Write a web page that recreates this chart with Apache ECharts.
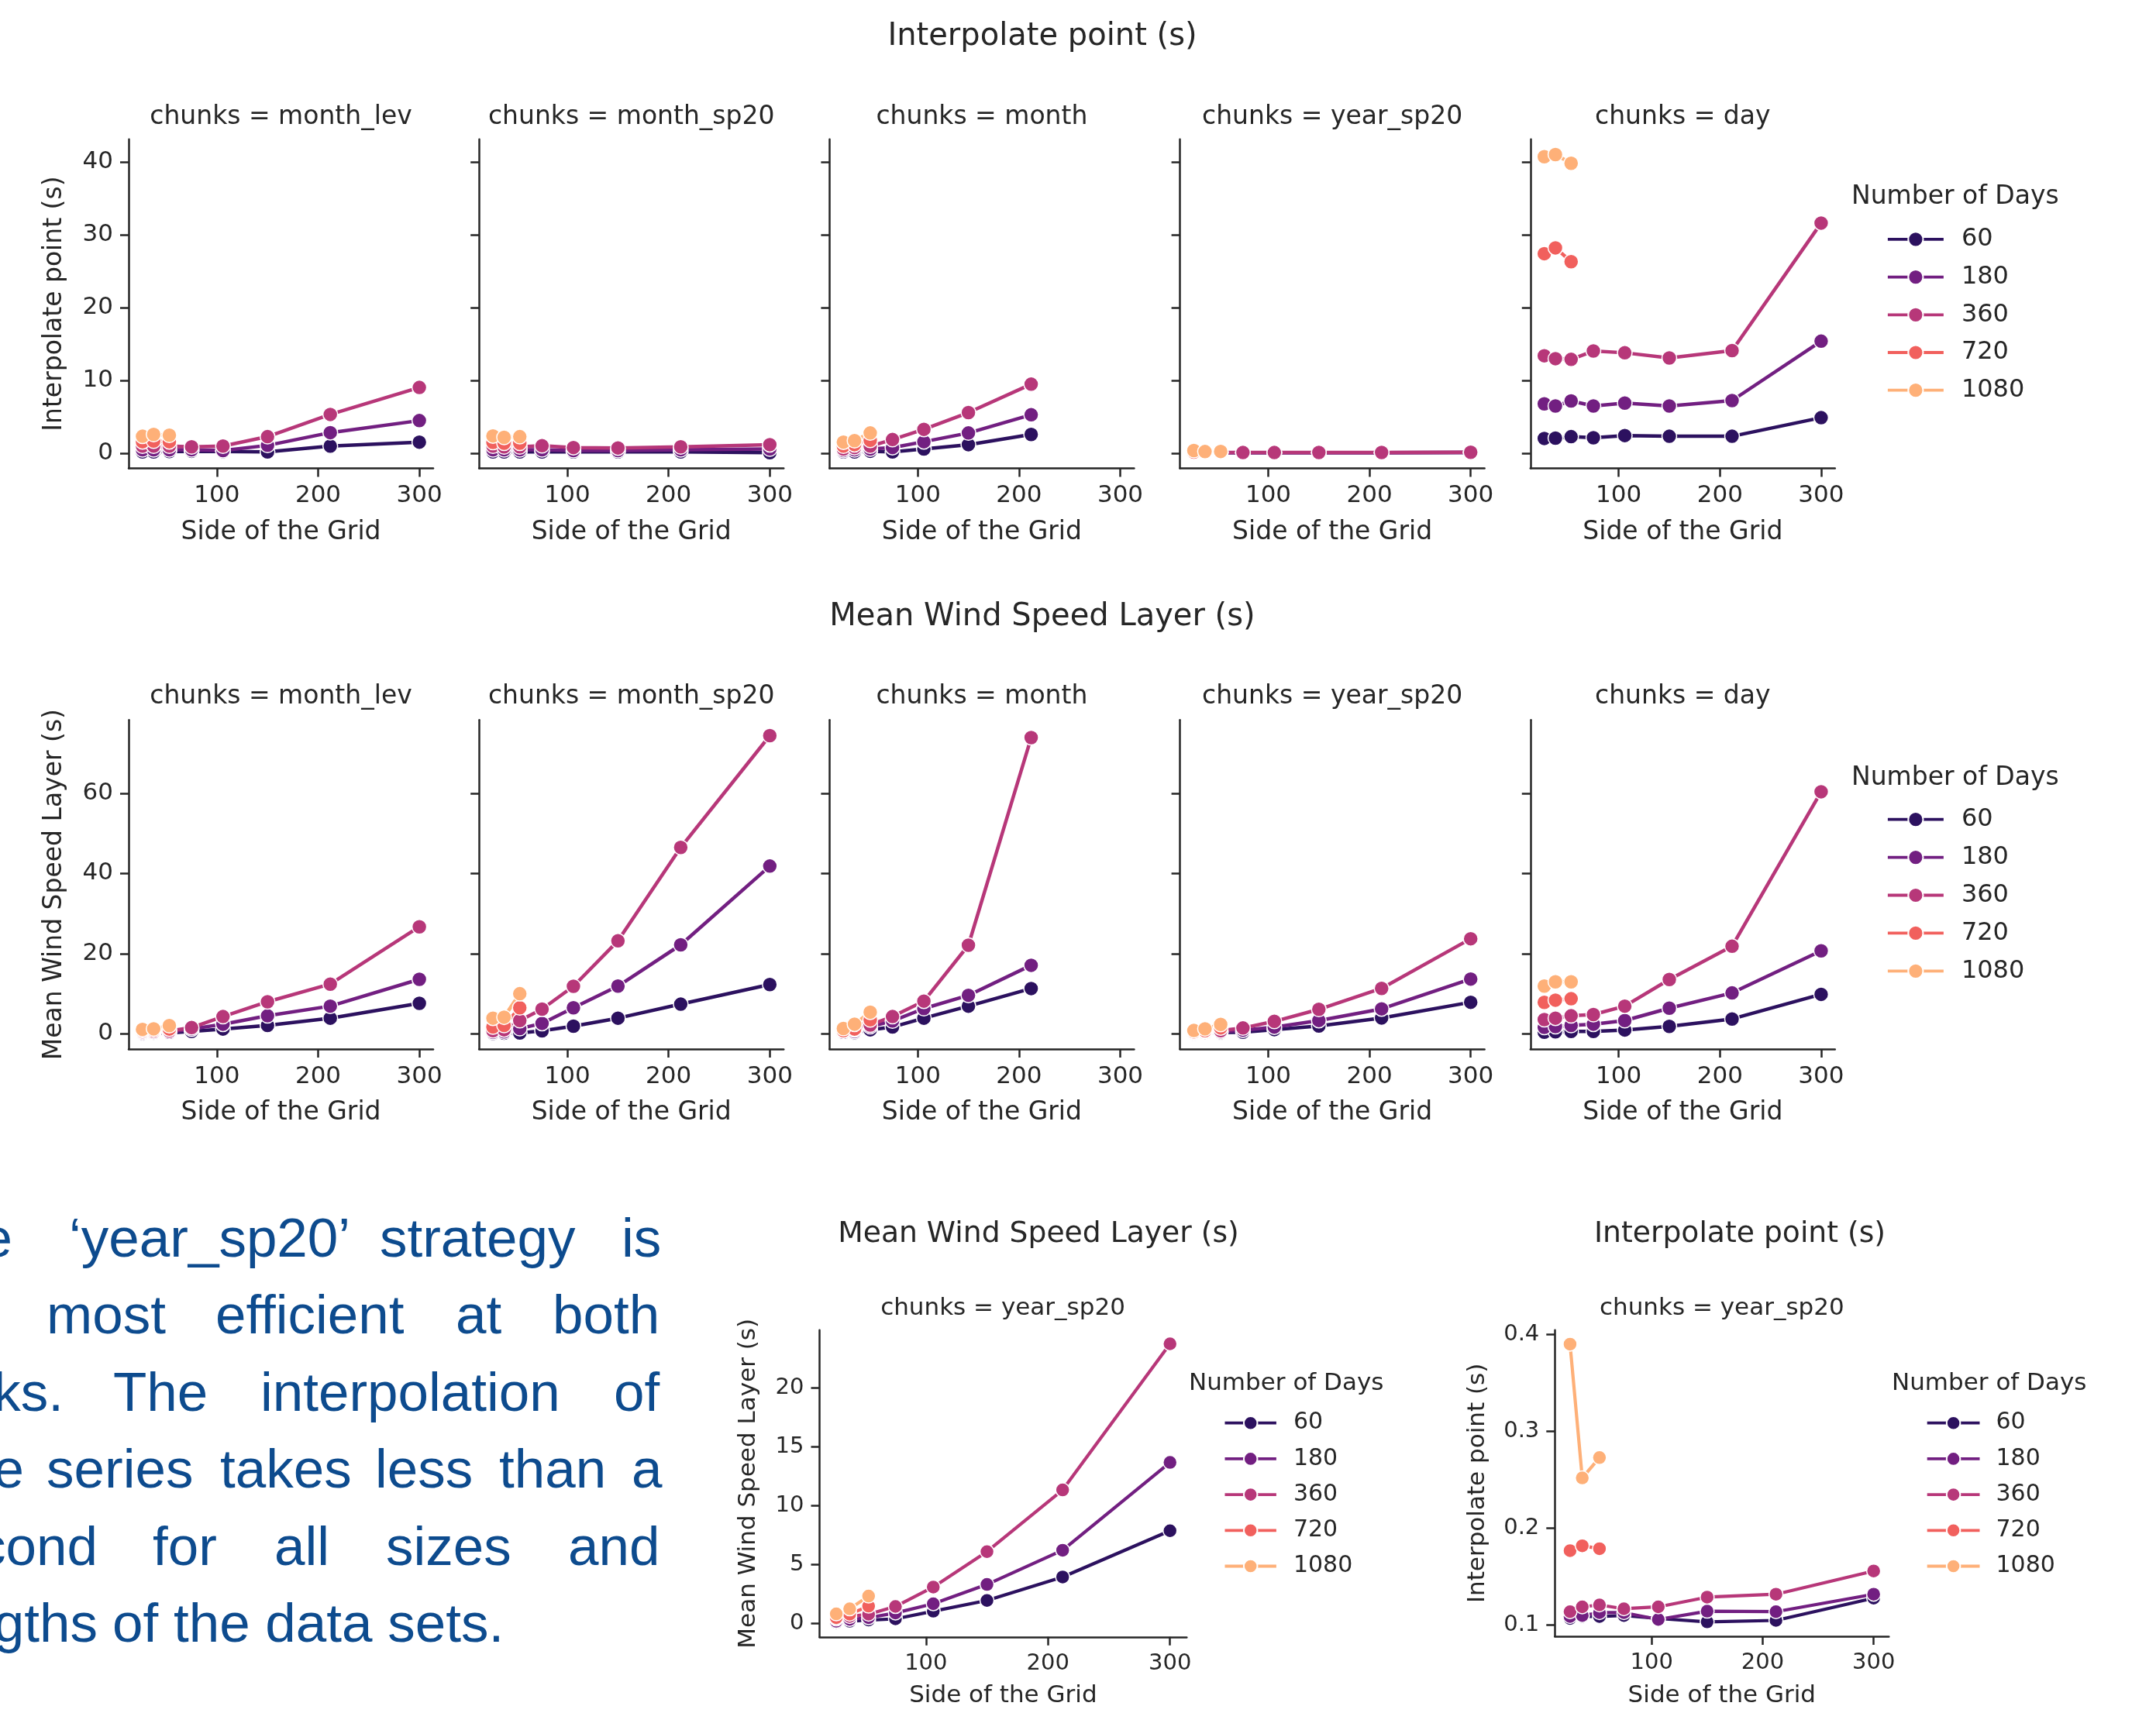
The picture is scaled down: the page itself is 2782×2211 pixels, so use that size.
<!DOCTYPE html>
<html>
<head>
<meta charset="utf-8">
<title>Interpolate point / Mean Wind Speed Layer</title>
<script src="https://cdn.jsdelivr.net/npm/echarts@6.0.0/dist/echarts.min.js"></script>
<style>
  html, body { margin: 0; padding: 0; background: #fff; }
  #main { width: 2782px; height: 2211px; }
</style>
</head>
<body>
<div id="main"></div>
<script>
// x values (side of the grid) and the hue levels
var SIDES = [26.5, 37.5, 53, 75, 106, 150, 212, 300];
var DAYS = [60, 180, 360, 720, 1080];
var CHUNKS = ['month_lev', 'month_sp20', 'month', 'year_sp20', 'day'];

// tick labels
var X_TICKS = [100, 200, 300];
var INTERP_TICKS = [0, 10, 20, 30, 40];
var WIND_TICKS = [0, 20, 40, 60];
var WIND_YS_TICKS = [0, 5, 10, 15, 20];
var INTERP_YS_TICKS = [0.1, 0.2, 0.3, 0.4];

// Interpolate point (s) -- one row per number of days (60, 180, 360, 720, 1080)
var interpMonthLev = [
  [0.2, 0.2, 0.25, 0.3, 0.25, 0.2, 1.0, 1.55],
  [0.5, 0.5, 0.5, 0.5, 0.4, 1.1, 2.85, 4.5],
  [1.0, 1.0, 1.0, 0.9, 1.0, 2.3, 5.35, 9.05],
  [1.6, 1.7, 1.6],
  [2.35, 2.6, 2.5]
];
var interpMonthSp20 = [
  [0.2, 0.2, 0.2, 0.2, 0.2, 0.2, 0.2, 0.1],
  [0.5, 0.5, 0.5, 0.5, 0.4, 0.4, 0.5, 0.6],
  [1.0, 0.9, 0.9, 1.05, 0.8, 0.75, 0.9, 1.2],
  [1.5, 1.4, 1.4],
  [2.4, 2.2, 2.3]
];
var interpMonth = [
  [0.2, 0.2, 0.3, 0.2, 0.6, 1.2, 2.6],
  [0.4, 0.5, 0.6, 0.8, 1.6, 2.8, 5.3],
  [0.6, 0.8, 1.0, 1.9, 3.3, 5.6, 9.5],
  [1.0, 1.2, 1.8],
  [1.55, 1.75, 2.8]
];
var interpYearSp20 = [
  [0.107, 0.109, 0.109, 0.110, 0.107, 0.1035, 0.105, 0.128],
  [0.109, 0.110, 0.113, 0.113, 0.106, 0.1145, 0.114, 0.132],
  [0.114, 0.119, 0.121, 0.117, 0.119, 0.129, 0.132, 0.156],
  [0.177, 0.182, 0.179],
  [0.390, 0.252, 0.273]
];
var interpDay = [
  [2.05, 2.1, 2.3, 2.15, 2.45, 2.35, 2.35, 4.9],
  [6.8, 6.5, 7.2, 6.5, 6.9, 6.5, 7.25, 15.4],
  [13.4, 13.0, 12.9, 14.05, 13.8, 13.1, 14.1, 31.6],
  [27.4, 28.2, 26.3],
  [40.7, 41.0, 39.8]
];

// Mean Wind Speed Layer (s)
var windMonthLev = [
  [0.1, 0.15, 0.2, 0.6, 1.2, 2.1, 3.9, 7.6],
  [0.3, 0.35, 0.4, 1.2, 2.4, 4.5, 6.9, 13.6],
  [0.5, 0.55, 0.7, 1.55, 4.3, 8.0, 12.4, 26.7],
  [0.8, 0.9, 1.2],
  [1.1, 1.25, 2.05]
];
var windMonthSp20 = [
  [0.1, 0.15, 0.2, 0.75, 1.9, 3.9, 7.4, 12.3],
  [0.4, 0.5, 1.3, 2.6, 6.5, 11.9, 22.2, 41.85],
  [0.8, 1.0, 3.3, 6.15, 11.85, 23.2, 46.5, 74.4],
  [1.7, 2.1, 6.5],
  [3.9, 4.15, 10.0]
];
var windMonth = [
  [0.2, 0.3, 1.0, 1.7, 3.9, 6.9, 11.3],
  [0.4, 0.6, 1.8, 3.2, 6.3, 9.6, 17.1],
  [0.7, 1.0, 2.2, 4.3, 8.15, 22.1, 73.9],
  [0.8, 1.2, 3.5],
  [1.33, 2.4, 5.4]
];
var windYearSp20 = [
  [0.1, 0.2, 0.3, 0.4, 1.05, 1.96, 3.95, 7.87],
  [0.2, 0.35, 0.5, 0.9, 1.68, 3.32, 6.22, 13.66],
  [0.4, 0.6, 0.8, 1.45, 3.1, 6.1, 11.33, 23.72],
  [0.5, 0.8, 1.48],
  [0.82, 1.25, 2.33]
];
var windDay = [
  [0.4, 0.5, 0.6, 0.6, 0.95, 1.85, 3.7, 9.85],
  [1.6, 1.8, 2.1, 2.4, 3.3, 6.4, 10.2, 20.7],
  [3.55, 3.9, 4.5, 4.8, 6.9, 13.55, 21.85, 60.4],
  [7.85, 8.4, 8.75],
  [11.9, 12.96, 12.96]
];

var interpByChunk = [interpMonthLev, interpMonthSp20, interpMonth, interpYearSp20, interpDay];
var windByChunk = [windMonthLev, windMonthSp20, windMonth, windYearSp20, windDay];

// magma, 5 levels
var COLORS = ['#2c115f', '#721f81', '#b73779', '#f1605d', '#feb078'];
var FONT = 'DejaVu Sans';
var INK = '#262626';
var BLUE = '#0d4b8e';
var X_MIN = 12.8, X_MAX = 313.7;

var grids = [], xAxes = [], yAxes = [], series = [], graphics = [], legends = [];

function addText(str, x, y, size, align, color, family) {
  graphics.push({
    type: 'text', x: x, y: y, silent: true,
    style: {
      text: str, font: size + 'px "' + (family || FONT) + '"', fill: color || INK,
      textAlign: align || 'center', align: align || 'center',
      textVerticalAlign: 'middle', verticalAlign: 'middle'
    }
  });
}

function addPanel(rect, rows, yMin, yMax, yTicks, o) {
  var idx = grids.length;
  grids.push({ left: rect[0], top: rect[1], width: rect[2], height: rect[3],
    containLabel: false, outerBoundsMode: 'none' });
  var axisLine = { show: true, onZero: false, lineStyle: { color: INK, width: 2.5 } };
  xAxes.push({
    type: 'value', gridIndex: idx, min: X_MIN, max: X_MAX,
    axisLine: axisLine,
    axisTick: { show: true, length: 11, customValues: X_TICKS, lineStyle: { color: INK, width: 2.5 } },
    axisLabel: { show: true, customValues: X_TICKS, fontSize: o.tick, color: INK, fontFamily: FONT, margin: 20 },
    splitLine: { show: false },
    name: 'Side of the Grid', nameLocation: 'middle', nameGap: o.xGap,
    nameTextStyle: { fontSize: o.label, color: INK, fontFamily: FONT }
  });
  yAxes.push({
    type: 'value', gridIndex: idx, min: yMin, max: yMax,
    axisLine: axisLine,
    axisTick: { show: true, length: 11, customValues: yTicks, lineStyle: { color: INK, width: 2.5 } },
    axisLabel: { show: o.yLabels, customValues: yTicks, fontSize: o.tick, color: INK, fontFamily: FONT, margin: 20 },
    splitLine: { show: false },
    name: o.yName || '', nameLocation: 'middle', nameGap: o.yGap, nameRotate: 90,
    nameTextStyle: { fontSize: o.label, color: INK, fontFamily: FONT }
  });
  rows.forEach(function (vals, k) {
    series.push({
      name: String(DAYS[k]), type: 'line', xAxisIndex: idx, yAxisIndex: idx,
      data: vals.map(function (v, i) { return [SIDES[i], v]; }),
      symbol: 'circle', symbolSize: o.sym, showAllSymbol: true,
      lineStyle: { color: COLORS[k], width: o.lw },
      itemStyle: { color: COLORS[k], borderColor: '#ffffff', borderWidth: 1.5 },
      emphasis: { disabled: true }, silent: true, animation: false
    });
  });
}

function addLegend(titleX, titleY, left, top, w, h, gap, fTitle, fItem, pad) {
  addText('Number of Days', titleX, titleY, fTitle, 'left');
  legends.push({
    orient: 'vertical', left: left, top: top, padding: 0,
    itemWidth: w, itemHeight: h, itemGap: gap, selectedMode: false,
    data: DAYS.map(String),
    lineStyle: { width: 3.8 },
    textStyle: { fontSize: fItem, color: INK, fontFamily: FONT, lineHeight: h, padding: [0, 0, 0, pad] }
  });
}

// two faceted rows
var LEFTS = [166, 618.2, 1070.4, 1522.6, 1974.8];
var PANEL_W = 393;
var rowOpt = { tick: 31, label: 33, xGap: 66, yGap: 79, sym: 19, lw: 4.5 };

addText('Interpolate point (s)', 1345, 48, 40);
addText('Mean Wind Speed Layer (s)', 1345, 797, 40);

CHUNKS.forEach(function (c, i) {
  addText('chunks = ' + c, LEFTS[i] + PANEL_W / 2, 151, 33);
  addPanel([LEFTS[i], 179.7, PANEL_W, 424.8], interpByChunk[i], -2.05, 43.1, INTERP_TICKS,
    Object.assign({}, rowOpt, { yLabels: i === 0, yName: i === 0 ? 'Interpolate point (s)' : '' }));
});
CHUNKS.forEach(function (c, i) {
  addText('chunks = ' + c, LEFTS[i] + PANEL_W / 2, 899, 33);
  addPanel([LEFTS[i], 929.3, PANEL_W, 424.7], windByChunk[i], -3.8, 78.3, WIND_TICKS,
    Object.assign({}, rowOpt, { yLabels: i === 0, yName: i === 0 ? 'Mean Wind Speed Layer (s)' : '' }));
});
addLegend(2389, 254.4, 2434, 292.9, 72, 24, 16.7, 33, 32, 18);
addLegend(2389, 1004, 2434, 1041.7, 72, 24, 16.9, 33, 32, 18);

// bottom: year_sp20 close-ups
var smallOpt = { tick: 29, label: 31, xGap: 61, sym: 18, lw: 4.2, yLabels: true };
addText('Mean Wind Speed Layer (s)', 1340, 1593, 37.7);
addText('chunks = year_sp20', 1294, 1688.5, 31);
addPanel([1057.5, 1716.8, 473.8, 396], windYearSp20, -1.13, 24.88, WIND_YS_TICKS,
  Object.assign({}, smallOpt, { yGap: 76, yName: 'Mean Wind Speed Layer (s)' }));
addLegend(1534, 1786, 1578.6, 1821.7, 66.4, 22, 16.2, 31, 30, 17);

addText('Interpolate point (s)', 2245, 1593, 37.7);
addText('chunks = year_sp20', 2221.8, 1688.5, 31);
addPanel([2006.3, 1716.8, 431, 395.2], interpYearSp20, 0.0886, 0.4045, INTERP_YS_TICKS,
  Object.assign({}, smallOpt, { yGap: 84, yName: 'Interpolate point (s)' }));
addLegend(2441, 1786, 2484.8, 1821.7, 67.8, 22, 16.2, 31, 30, 16);

// paragraph on the left (cut off at the page edge)
var PARAGRAPH = [
  [1602, [['The', 16, 'right'], ['\u2018year_sp20\u2019', 89, 'left'], ['strategy', 490, 'left'], ['is', 802, 'left']]],
  [1701.7, [['most', 60, 'left'], ['efficient', 278, 'left'], ['at', 588, 'left'], ['both', 713, 'left']]],
  [1801.2, [['tasks.', 82, 'right'], ['The', 146, 'left'], ['interpolation', 336, 'left'], ['of', 792, 'left']]],
  [1900.7, [['time', 31, 'right'], ['series', 60, 'left'], ['takes', 284, 'left'], ['less', 484, 'left'], ['than', 644, 'left'], ['a', 815, 'left']]],
  [2000.2, [['second', 126, 'right'], ['for', 197, 'left'], ['all', 354, 'left'], ['sizes', 498, 'left'], ['and', 733, 'left']]],
  [2099.7, [['lengths', 126, 'right'], ['of the data sets.', 145, 'left']]]
];
PARAGRAPH.forEach(function (line) {
  line[1].forEach(function (w) {
    addText(w[0], w[1], line[0], 71, w[2], BLUE, 'Liberation Sans');
  });
});

var chart = echarts.init(document.getElementById('main'), null, { renderer: 'canvas' });
chart.setOption({
  backgroundColor: '#ffffff',
  animation: false,
  textStyle: { fontFamily: FONT },
  grid: grids,
  xAxis: xAxes,
  yAxis: yAxes,
  legend: legends,
  series: series,
  graphic: { elements: graphics }
});
</script>
</body>
</html>
